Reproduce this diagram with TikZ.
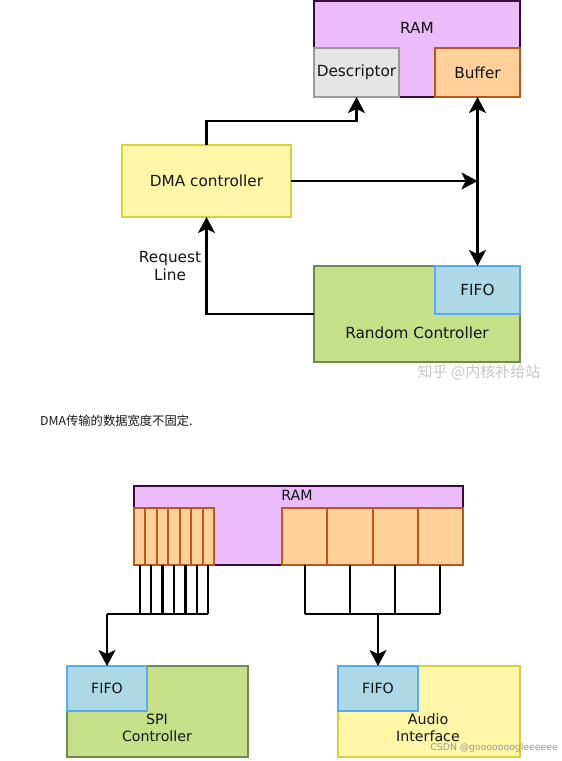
\documentclass[tikz,border=0pt]{standalone}
\usepackage{fontspec}
\setmainfont{DejaVu Sans}
\newfontfamily\cjk{Noto Sans CJK SC}
\usetikzlibrary{arrows.meta,calc}
\definecolor{ramfill}{HTML}{EBBCF9}
\definecolor{ramdraw}{HTML}{3A0A3E}
\definecolor{descfill}{HTML}{E5E5E5}
\definecolor{descdraw}{HTML}{9A9A9A}
\definecolor{buffill}{HTML}{FFD09A}
\definecolor{bufdraw}{HTML}{B8581A}
\definecolor{yelfill}{HTML}{FFF6A8}
\definecolor{yeldraw}{HTML}{DDCF3C}
\definecolor{grnfill}{HTML}{C6E08A}
\definecolor{grndraw}{HTML}{6E8C50}
\definecolor{fifofill}{HTML}{ADD8E6}
\definecolor{fifodraw}{HTML}{5AAAF0}
\begin{document}
\begin{tikzpicture}[x=1pt,y=-1pt,
  box/.style={draw, line width=2pt, anchor=north west, inner sep=0pt, outer sep=0pt},
  ramb/.style={box, fill=ramfill, draw=ramdraw},
  descb/.style={box, fill=descfill, draw=descdraw},
  bufb/.style={box, fill=buffill, draw=bufdraw},
  yelb/.style={box, fill=yelfill, draw=yeldraw},
  grnb/.style={box, fill=grnfill, draw=grndraw},
  fifob/.style={box, fill=fifofill, draw=fifodraw},
  lbl/.style={font=\fontsize{15.3}{18}\selectfont, text=black!92, align=center, inner sep=0pt},
  lbls/.style={font=\fontsize{14.2}{17}\selectfont, text=black!92, align=center, inner sep=0pt},
  wire/.style={line width=2.2pt},
  tip/.tip={Stealth[length=16pt,width=17pt,inset=4pt]},
  arr/.style={wire, -tip},
  darr/.style={wire, tip-tip},
  wm/.style={inner sep=0pt}
]
\useasboundingbox (0,0) rectangle (562,761);
\fill[white] (0,0) rectangle (562,761);

% ---------- top diagram ----------
\node[ramb, minimum width=206pt, minimum height=96pt] (ram) at (314,1) {};
\node[lbl] (ramtxt) at (417,28) {RAM};
\node[descb, minimum width=85pt, minimum height=49pt] (desc) at (314,48) {};
\node[lbl] (desctxt) at (desc.center) {Descriptor};
\node[bufb, minimum width=85pt, minimum height=49pt] (buf) at (435,48) {};
\node[lbl] (buftxt) at (buf.center) {Buffer};

\node[yelb, minimum width=169pt, minimum height=72pt] (dma) at (122,145) {};
\node[lbl] (dmatxt) at (dma.center) {DMA controller};

\node[grnb, minimum width=206pt, minimum height=96pt] (rc) at (314,266) {};
\node[fifob, minimum width=85pt, minimum height=48pt] (fifo) at (435,266) {};
\node[lbl] (fifotxt) at (fifo.center) {FIFO};
\node[lbl] (rctxt) at (417,333) {Random Controller};

\draw[arr] (dma.north) -- ++(0,-24) -| (desc.south);
\draw[arr] (dma.east) -- (dma.east -| buf.south);
\draw[darr] (buf.south) -- (fifo.north);
\draw[arr] (rc.west) -| (dma.south);
\node[lbl] (req) at (170,266) {Request\\Line};

\node[wm, text=black!22, font=\cjk\fontsize{15}{15}\selectfont] (wm1) at (479,372) {知乎 @内核补给站};

% ---------- caption ----------
\node[anchor=west, inner sep=0pt, font=\cjk\fontsize{12.3}{12}\selectfont, text=black!90] (cap) at (40,421) {DMA传输的数据宽度不固定.};

% ---------- bottom diagram ----------
\node[ramb, minimum width=329pt, minimum height=79pt] (ram2) at (134,486) {};
\node[lbls] (ram2txt) at (297,495) {RAM};
\foreach \i in {1,...,7} {
  \node[bufb, minimum width=11.43pt, minimum height=57pt] (lc\i) at ({134+(\i-1)*11.43},508) {};
}
\foreach \i in {1,...,4} {
  \node[bufb, minimum width=45.25pt, minimum height=57pt] (rcell\i) at ({282+(\i-1)*45.25},508) {};
}

\node[grnb, minimum width=181pt, minimum height=91pt] (spi) at (67,666) {};
\node[fifob, minimum width=80pt, minimum height=45pt] (spififo) at (67,666) {};
\node[lbls] (spififotxt) at (spififo.center) {FIFO};
\node[lbls] (spitxt) at (157,728) {SPI\\Controller};

\node[yelb, minimum width=182pt, minimum height=91pt] (aud) at (338,666) {};
\node[fifob, minimum width=80pt, minimum height=45pt] (audfifo) at (338,666) {};
\node[lbls] (audfifotxt) at (audfifo.center) {FIFO};
\node[lbls] (audtxt) at (428,728) {Audio\\Interface};

\coordinate (lj) at (spififo.north |- 0,614);
\coordinate (rj) at (audfifo.north |- 0,614);
\foreach \i in {1,...,7} { \draw[wire] (lc\i.south) -- (lc\i.south |- lj); }
\draw[wire] (lj) -- (lc7.south |- lj);
\draw[arr] (lj) -- (spififo.north);
\foreach \i in {1,...,4} { \draw[wire] (rcell\i.south) -- (rcell\i.south |- rj); }
\draw[wire] (rcell1.south |- rj) -- (rcell4.south |- rj);
\draw[arr] (rj) -- (audfifo.north);

\node[wm, anchor=east, text=black!40, font=\fontsize{9.3}{10}\selectfont] (wm2) at (558,748) {CSDN @gooooooogleeeeee};
\end{tikzpicture}
\end{document}
